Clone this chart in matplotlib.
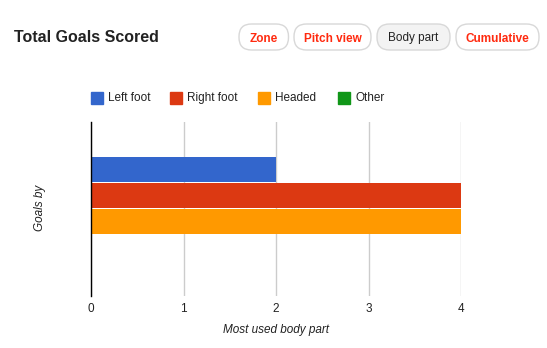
import matplotlib
matplotlib.use("Agg")
import matplotlib.pyplot as plt
from matplotlib.patches import FancyBboxPatch, Rectangle

plt.rcParams['font.family'] = ['Liberation Sans', 'DejaVu Sans']

series = ["Left foot", "Right foot", "Headed", "Other"]
values = [2, 4, 4, 0]
colors = ["#3366cc", "#dc3912", "#ff9900", "#109618"]
xticks = [0, 1, 2, 3, 4]
buttons = ["Zone", "Pitch view", "Body part", "Cumulative"]

W, H = 547, 348
fig = plt.figure(figsize=(W / 100, H / 100), dpi=100)

def fx(px):
    return px / W

def fy(py):
    return 1 - py / H

ax = fig.add_axes([fx(91), fy(296), fx(461) - fx(91), fy(122) - fy(296)])

# bars: one category, four series stacked vertically (top to bottom)
positions = [1.5, 0.5, -0.5, -1.5]
for pos, v, c in zip(positions, values, colors):
    ax.barh(pos, v, height=0.98, color=c, zorder=3)

ax.set_xlim(0, 4)
ax.set_ylim(-2 - 36 / 25.75, 2 + 35 / 25.75)
ax.set_xticks(xticks)
ax.set_xticklabels([str(t) for t in xticks], fontsize=8.5, color="#222222")
ax.set_yticks([])
ax.tick_params(axis='x', length=0, pad=5)
for s in ["top", "right", "bottom"]:
    ax.spines[s].set_visible(False)
ax.spines["left"].set_color("black")
ax.spines["left"].set_linewidth(1)
ax.spines["left"].set_zorder(5)
ax.grid(axis='x', color="#cccccc", linewidth=1, zorder=0)

# overlay in pixel coordinates for header, buttons, legend, labels
ov = fig.add_axes([0, 0, 1, 1], zorder=-1)
ov.set_xlim(0, W)
ov.set_ylim(H, 0)
ov.axis('off')

ov.text(276, 330, "Most used body part", fontsize=8.5, style='italic',
        ha='center', va='center', color="#222222")
ov.text(40, 208, "Goals by", fontsize=8.5, style='italic', rotation=90,
        ha='center', va='center', color="#222222")

# title
ov.text(14, 38, "Total Goals Scored", fontsize=11.5, fontweight='bold',
        ha='left', va='center', color="#222222")

# buttons
btn_boxes = [(239, 288.5), (294, 371), (377, 450), (456, 539)]
for (x0, x1), label in zip(btn_boxes, buttons):
    active = label == "Body part"
    p = FancyBboxPatch((x0, 24), x1 - x0, 26,
                       boxstyle="round,pad=0,rounding_size=12.5",
                       facecolor="#f3f3f3" if active else "white",
                       edgecolor="#d8d8d8", linewidth=1)
    ov.add_patch(p)
    ov.text((x0 + x1) / 2, 41.5, label, fontsize=8.5,
            fontweight='normal' if active else 'bold',
            color="#222222" if active else "#ff2a0f", ha='center', va='baseline')

# legend
leg_sq = [91, 170, 258, 338]
for x0, label, c in zip(leg_sq, series, colors):
    ov.add_patch(Rectangle((x0, 92), 12, 12, facecolor=c, edgecolor=c))
    ov.text(x0 + 17, 98, label, fontsize=8.5, ha='left', va='center', color="#222222")

fig.savefig("out.png", dpi=100)
